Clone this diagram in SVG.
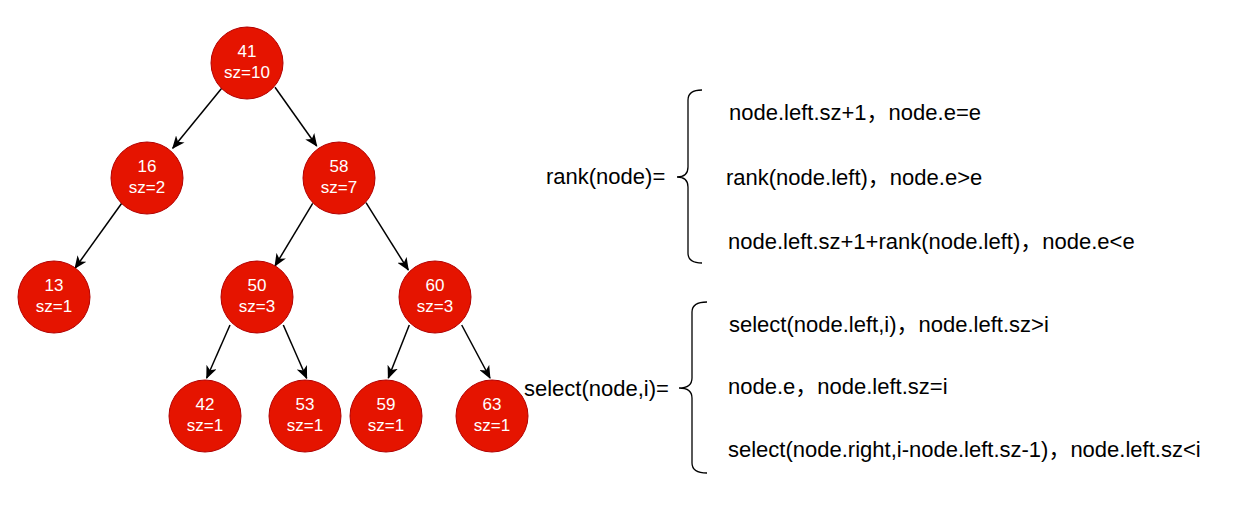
<svg xmlns="http://www.w3.org/2000/svg" width="1237" height="507" viewBox="0 0 1237 507">
<style>
.node circle{fill:#e51400;stroke:#b20000;stroke-width:1}
.node text{fill:#ffffff;font-family:"Liberation Sans",Arial,sans-serif;font-size:17px;text-anchor:middle}
.edge{stroke:#000;stroke-width:1.5;fill:none;marker-end:url(#arr)}
.lbl{fill:#000;font-family:"Liberation Sans",Arial,"Noto Sans CJK SC",sans-serif;font-size:22px}
.brace{stroke:#000;stroke-width:1.3;fill:none}
</style>
<defs>
<marker id="arr" markerUnits="userSpaceOnUse" markerWidth="13" markerHeight="11" viewBox="0 0 13 11" refX="12" refY="5.5" orient="auto">
<path d="M0,0 L13,5.5 L0,11 L3.5,5.5 Z" fill="#000"/>
</marker>
</defs>
<g id="connectors">
<line class="edge" x1="221.7" y1="88.3" x2="172.7" y2="148.3"/>
<line class="edge" x1="275" y1="87.3" x2="316.7" y2="146"/>
<line class="edge" x1="121.7" y1="203.3" x2="75" y2="268.3"/>
<line class="edge" x1="312.7" y1="203.3" x2="275" y2="266"/>
<line class="edge" x1="366" y1="202.7" x2="408.3" y2="270"/>
<line class="edge" x1="230" y1="325" x2="206.7" y2="378"/>
<line class="edge" x1="283.3" y1="325" x2="306.7" y2="378.3"/>
<line class="edge" x1="409.3" y1="325" x2="388.3" y2="378"/>
<line class="edge" x1="461.7" y1="325" x2="490" y2="378"/>
</g>
<g id="n41" class="node"><circle cx="247" cy="63" r="36"/><text x="247" y="57">41</text><text x="247" y="78">sz=10</text></g>
<g id="n16" class="node"><circle cx="147" cy="178" r="36"/><text x="147" y="172">16</text><text x="147" y="193">sz=2</text></g>
<g id="n58" class="node"><circle cx="339" cy="178" r="36"/><text x="339" y="172">58</text><text x="339" y="193">sz=7</text></g>
<g id="n13" class="node"><circle cx="54" cy="297" r="36"/><text x="54" y="291">13</text><text x="54" y="312">sz=1</text></g>
<g id="n50" class="node"><circle cx="257" cy="297" r="36"/><text x="257" y="291">50</text><text x="257" y="312">sz=3</text></g>
<g id="n60" class="node"><circle cx="435" cy="297" r="36"/><text x="435" y="291">60</text><text x="435" y="312">sz=3</text></g>
<g id="n42" class="node"><circle cx="205" cy="416" r="36"/><text x="205" y="410">42</text><text x="205" y="431">sz=1</text></g>
<g id="n53" class="node"><circle cx="305" cy="416" r="36"/><text x="305" y="410">53</text><text x="305" y="431">sz=1</text></g>
<g id="n59" class="node"><circle cx="386" cy="416" r="36"/><text x="386" y="410">59</text><text x="386" y="431">sz=1</text></g>
<g id="n63" class="node"><circle cx="492" cy="416" r="36"/><text x="492" y="410">63</text><text x="492" y="431">sz=1</text></g>
<g id="rank">
<text class="lbl" x="546" y="184">rank(node)=</text>
<path class="brace" d="M702,90 Q688,90 688,100 L688,167 Q688,177 677,177 Q688,177 688,187 L688,253 Q688,263 702,263"/>
<text class="lbl" x="729" y="120">node.left.sz+1，node.e=e</text>
<text class="lbl" x="726" y="185">rank(node.left)，node.e&gt;e</text>
<text class="lbl" x="728" y="249">node.left.sz+1+rank(node.left)，node.e&lt;e</text>
</g>
<g id="select">
<text class="lbl" x="524" y="396">select(node,i)=</text>
<path class="brace" d="M707,302 Q692,302 692,312 L692,378 Q692,388 679,388 Q692,388 692,398 L692,463 Q692,473 707,473"/>
<text class="lbl" x="729" y="332">select(node.left,i)，node.left.sz&gt;i</text>
<text class="lbl" x="728" y="394">node.e，node.left.sz=i</text>
<text class="lbl" x="728" y="457">select(node.right,i-node.left.sz-1)，node.left.sz&lt;i</text>
</g>
</svg>
